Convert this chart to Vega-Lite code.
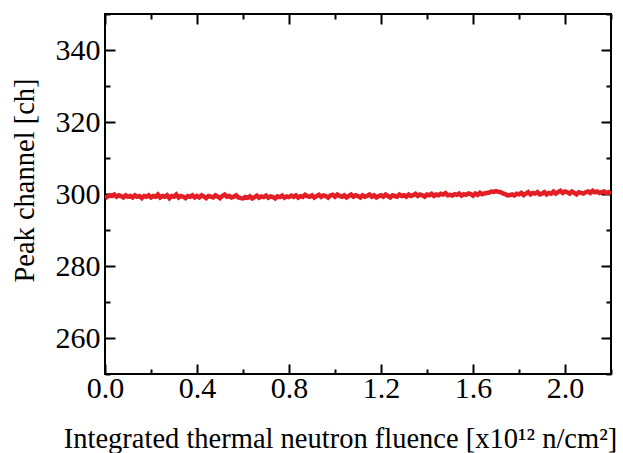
{
  "$schema": "https://vega.github.io/schema/vega-lite/v6.json",
  "width": 506,
  "height": 360,
  "autosize": {"type": "none"},
  "padding": {"left": 105, "top": 14, "right": 12, "bottom": 79},
  "background": "white",
  "data": {"values": [
    {"f":0.00,"ch":298.9},{"f":0.01,"ch":299.25},{"f":0.02,"ch":299.65},{"f":0.03,"ch":299.45},{"f":0.04,"ch":299.85},{"f":0.05,"ch":299.25},{"f":0.06,"ch":299.65},{"f":0.07,"ch":299.45},{"f":0.08,"ch":299.05},{"f":0.09,"ch":299.65},
    {"f":0.10,"ch":299.25},{"f":0.11,"ch":299.45},{"f":0.12,"ch":299.05},{"f":0.13,"ch":299.65},{"f":0.14,"ch":299.25},{"f":0.15,"ch":299.45},{"f":0.16,"ch":298.85},{"f":0.17,"ch":299.45},{"f":0.18,"ch":299.25},{"f":0.19,"ch":299.65},
    {"f":0.20,"ch":299.05},{"f":0.21,"ch":299.45},{"f":0.22,"ch":299.25},{"f":0.23,"ch":299.85},{"f":0.24,"ch":299.05},{"f":0.25,"ch":299.45},{"f":0.26,"ch":299.25},{"f":0.27,"ch":299.65},{"f":0.28,"ch":298.85},{"f":0.29,"ch":299.45},
    {"f":0.30,"ch":299.25},{"f":0.31,"ch":299.85},{"f":0.32,"ch":299.05},{"f":0.33,"ch":299.45},{"f":0.34,"ch":299.25},{"f":0.35,"ch":298.85},{"f":0.36,"ch":299.45},{"f":0.37,"ch":299.25},{"f":0.38,"ch":299.65},{"f":0.39,"ch":299.05},
    {"f":0.40,"ch":299.45},{"f":0.41,"ch":299.05},{"f":0.42,"ch":299.65},{"f":0.43,"ch":299.25},{"f":0.44,"ch":298.85},{"f":0.45,"ch":299.45},{"f":0.46,"ch":299.25},{"f":0.47,"ch":299.05},{"f":0.48,"ch":299.65},{"f":0.49,"ch":299.25},
    {"f":0.50,"ch":298.85},{"f":0.51,"ch":299.45},{"f":0.52,"ch":299.85},{"f":0.53,"ch":299.25},{"f":0.54,"ch":299.45},{"f":0.55,"ch":299.05},{"f":0.56,"ch":299.25},{"f":0.57,"ch":299.65},{"f":0.58,"ch":299.05},{"f":0.59,"ch":298.85},
    {"f":0.60,"ch":298.75},{"f":0.61,"ch":299.15},{"f":0.62,"ch":298.95},{"f":0.63,"ch":299.35},{"f":0.64,"ch":298.75},{"f":0.65,"ch":299.15},{"f":0.66,"ch":299.55},{"f":0.67,"ch":298.95},{"f":0.68,"ch":299.35},{"f":0.69,"ch":299.15},
    {"f":0.70,"ch":299.55},{"f":0.71,"ch":298.95},{"f":0.72,"ch":299.35},{"f":0.73,"ch":299.15},{"f":0.74,"ch":298.75},{"f":0.75,"ch":299.35},{"f":0.76,"ch":299.15},{"f":0.77,"ch":299.55},{"f":0.78,"ch":298.95},{"f":0.79,"ch":299.35},
    {"f":0.80,"ch":299.15},{"f":0.81,"ch":299.55},{"f":0.82,"ch":299.2},{"f":0.83,"ch":299.6},{"f":0.84,"ch":299.0},{"f":0.85,"ch":299.4},{"f":0.86,"ch":299.2},{"f":0.87,"ch":299.8},{"f":0.88,"ch":299.4},{"f":0.89,"ch":299.2},
    {"f":0.90,"ch":299.6},{"f":0.91,"ch":299.0},{"f":0.92,"ch":299.4},{"f":0.93,"ch":299.8},{"f":0.94,"ch":299.2},{"f":0.95,"ch":299.6},{"f":0.96,"ch":299.4},{"f":0.97,"ch":299.0},{"f":0.98,"ch":299.6},{"f":0.99,"ch":299.8},
    {"f":1.00,"ch":299.25},{"f":1.01,"ch":299.85},{"f":1.02,"ch":299.45},{"f":1.03,"ch":299.25},{"f":1.04,"ch":299.65},{"f":1.05,"ch":299.05},{"f":1.06,"ch":299.45},{"f":1.07,"ch":299.85},{"f":1.08,"ch":299.25},{"f":1.09,"ch":299.65},
    {"f":1.10,"ch":299.45},{"f":1.11,"ch":299.05},{"f":1.12,"ch":299.65},{"f":1.13,"ch":299.25},{"f":1.14,"ch":299.45},{"f":1.15,"ch":299.85},{"f":1.16,"ch":299.25},{"f":1.17,"ch":299.65},{"f":1.18,"ch":299.05},{"f":1.19,"ch":299.45},
    {"f":1.20,"ch":299.65},{"f":1.21,"ch":299.25},{"f":1.22,"ch":299.85},{"f":1.23,"ch":299.45},{"f":1.24,"ch":299.05},{"f":1.25,"ch":299.65},{"f":1.26,"ch":299.45},{"f":1.27,"ch":299.25},{"f":1.28,"ch":299.85},{"f":1.29,"ch":299.45},
    {"f":1.30,"ch":299.65},{"f":1.31,"ch":299.25},{"f":1.32,"ch":299.85},{"f":1.33,"ch":299.45},{"f":1.34,"ch":299.65},{"f":1.35,"ch":300.05},{"f":1.36,"ch":299.45},{"f":1.37,"ch":299.85},{"f":1.38,"ch":299.65},{"f":1.39,"ch":299.25},
    {"f":1.40,"ch":299.85},{"f":1.41,"ch":299.65},{"f":1.42,"ch":300.05},{"f":1.43,"ch":299.45},{"f":1.44,"ch":299.85},{"f":1.45,"ch":299.65},{"f":1.46,"ch":300.05},{"f":1.47,"ch":299.85},{"f":1.48,"ch":300.25},{"f":1.49,"ch":299.65},
    {"f":1.50,"ch":299.75},{"f":1.51,"ch":299.55},{"f":1.52,"ch":299.95},{"f":1.53,"ch":299.75},{"f":1.54,"ch":300.15},{"f":1.55,"ch":299.55},{"f":1.56,"ch":299.95},{"f":1.57,"ch":299.75},{"f":1.58,"ch":300.15},{"f":1.59,"ch":299.95},
    {"f":1.60,"ch":299.55},{"f":1.61,"ch":300.15},{"f":1.62,"ch":299.75},{"f":1.63,"ch":300.35},{"f":1.64,"ch":299.95},{"f":1.65,"ch":300.15},{"f":1.66,"ch":300.3},{"f":1.67,"ch":300.4},{"f":1.68,"ch":300.7},{"f":1.69,"ch":300.6},
    {"f":1.70,"ch":300.8},{"f":1.71,"ch":300.6},{"f":1.72,"ch":300.5},{"f":1.73,"ch":300.2},{"f":1.74,"ch":300.0},{"f":1.75,"ch":299.6},{"f":1.76,"ch":299.7},{"f":1.77,"ch":299.9},{"f":1.78,"ch":299.6},{"f":1.79,"ch":300.1},
    {"f":1.80,"ch":299.9},{"f":1.81,"ch":300.3},{"f":1.82,"ch":299.7},{"f":1.83,"ch":300.1},{"f":1.84,"ch":300.5},{"f":1.85,"ch":299.9},{"f":1.86,"ch":300.3},{"f":1.87,"ch":300.1},{"f":1.88,"ch":300.5},{"f":1.89,"ch":299.9},
    {"f":1.90,"ch":300.1},{"f":1.91,"ch":300.5},{"f":1.92,"ch":299.9},{"f":1.93,"ch":300.3},{"f":1.94,"ch":300.1},{"f":1.95,"ch":300.7},{"f":1.96,"ch":300.1},{"f":1.97,"ch":300.5},{"f":1.98,"ch":300.9},{"f":1.99,"ch":300.3},
    {"f":2.00,"ch":300.7},{"f":2.01,"ch":300.5},{"f":2.02,"ch":300.1},{"f":2.03,"ch":300.7},{"f":2.04,"ch":300.3},{"f":2.05,"ch":299.9},{"f":2.06,"ch":300.5},{"f":2.07,"ch":300.3},{"f":2.08,"ch":300.1},{"f":2.09,"ch":300.5},
    {"f":2.10,"ch":300.7},{"f":2.11,"ch":300.3},{"f":2.12,"ch":300.9},{"f":2.13,"ch":300.5},{"f":2.14,"ch":300.7},{"f":2.15,"ch":300.3},{"f":2.16,"ch":300.5},{"f":2.17,"ch":300.7},{"f":2.18,"ch":300.3},{"f":2.19,"ch":300.5},
    {"f":2.20,"ch":300.1}
  ]},
  "layer": [
    {
      "mark": {"type": "line", "color": "#e31e24", "strokeWidth": 4.5, "clip": true},
      "encoding": {
        "x": {"field": "f", "type": "quantitative",
          "scale": {"domain": [0, 2.2], "nice": false, "zero": false},
          "axis": {"orient": "bottom", "title": "Integrated thermal neutron fluence [x10¹² n/cm²]",
            "values": [0,0.2,0.4,0.6,0.8,1.0,1.2,1.4,1.6,1.8,2.0,2.2],
            "labelExpr": "round(datum.value*10) % 4 == 0 ? format(datum.value, '.1f') : ''",
            "tickSize": {"condition": {"test": "round(datum.value*10) % 4 == 0", "value": -10}, "value": -5},
            "labelFlush": false, "labelOverlap": false,
            "labelPadding": 9, "titlePadding": 16, "titleX": 235}},
        "y": {"field": "ch", "type": "quantitative",
          "scale": {"domain": [250, 350], "nice": false, "zero": false},
          "axis": {"orient": "left", "title": "Peak channel [ch]",
            "values": [250,260,270,280,290,300,310,320,330,340,350],
            "labelExpr": "datum.value % 20 == 0 ? datum.label : ''",
            "tickSize": {"condition": {"test": "datum.value % 20 == 0", "value": -10}, "value": -5},
            "labelFlush": false, "labelOverlap": false,
            "labelPadding": 15, "titlePadding": 16, "titleY": 166}}
      }
    },
    {
      "mark": {"type": "line", "opacity": 0},
      "encoding": {
        "x": {"field": "f", "type": "quantitative",
          "scale": {"domain": [0, 2.2], "nice": false, "zero": false},
          "axis": {"orient": "top", "title": null, "labels": false,
            "values": [0,0.2,0.4,0.6,0.8,1.0,1.2,1.4,1.6,1.8,2.0,2.2],
            "tickSize": {"condition": {"test": "round(datum.value*10) % 4 == 0", "value": -10}, "value": -5}}},
        "y": {"field": "ch", "type": "quantitative",
          "scale": {"domain": [250, 350], "nice": false, "zero": false},
          "axis": {"orient": "right", "title": null, "labels": false,
            "values": [250,260,270,280,290,300,310,320,330,340,350],
            "tickSize": {"condition": {"test": "datum.value % 20 == 0", "value": -10}, "value": -5}}}
      }
    }
  ],
  "resolve": {"axis": {"x": "independent", "y": "independent"}},
  "config": {
    "view": {"stroke": "black", "strokeWidth": 2},
    "axis": {
      "grid": false, "domain": false,
      "tickColor": "black", "tickWidth": 2,
      "labelFont": "Liberation Serif", "labelFontSize": 30, "labelColor": "black",
      "titleFont": "Liberation Serif", "titleFontSize": 28.5, "titleFontWeight": "normal", "titleColor": "black"
    }
  }
}
